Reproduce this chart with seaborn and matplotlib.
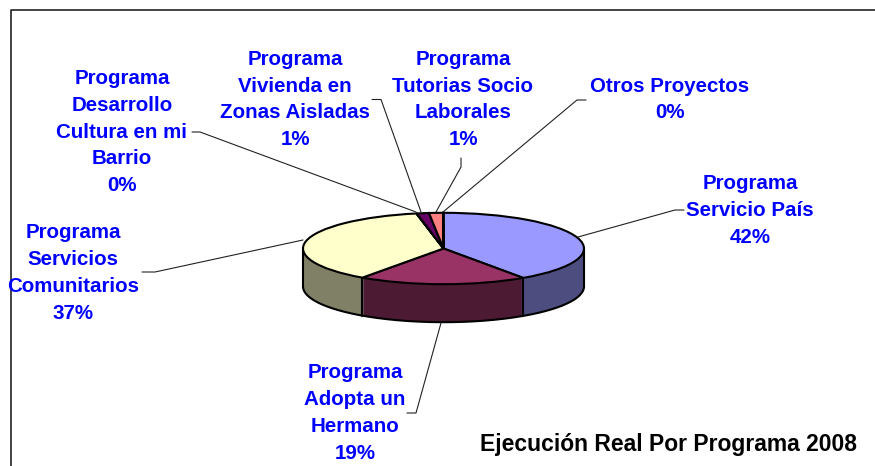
import numpy as np
import seaborn as sns
import matplotlib.pyplot as plt

sns.set_theme(style="white")
plt.rcParams['font.family'] = ['Liberation Sans', 'DejaVu Sans']

programas = ["Programa\nServicio País", "Programa\nAdopta un\nHermano", "Programa\nServicios\nComunitarios",
             "Programa\nDesarrollo\nCultura en mi\nBarrio", "Programa\nVivienda en\nZonas Aisladas",
             "Programa\nTutorias Socio\nLaborales", "Otros Proyectos"]
# sector sizes measured on the drawn pie, printed percentages are rounded in the source
sectores = [40.4, 19.4, 37.1, 0.05, 1.4, 1.6, 0.05]
porcentajes = [42, 19, 37, 0, 1, 1, 0]
colores = ["#9999FF", "#993366", "#FFFFCC", "#CCFFFF", "#660066", "#FF8080", "#0066CC"]
colores_lado = ["#4D4D80", "#4D1A33", "#808066", "#668080", "#330033", "#804040", "#003366"]

# label centre and leader line in pixels
pos_label = [(750, 210.5), (355, 413), (73, 273), (122, 132), (295, 99.5), (463, 99.5), (670, 99.5)]
lideres = [[(578, 237), (675, 210), (684, 210)],
           [(441, 323), (416, 413), (407, 413)],
           [(303, 240), (155, 272), (142, 272)],
           [(416, 212), (200, 132), (192, 132)],
           [(421, 212), (381, 99.5), (372, 99.5)],
           [(436, 212), (461, 167), (461, 158)],
           [(443, 212), (577, 100), (586, 100)]]

cx, cy, rx, ry = 443.5, 248.5, 140.5, 35.7
alto = 38 / ry

fig = plt.figure(figsize=(8.75, 4.66), dpi=100)
ax = fig.add_axes([0, 0, 1, 1])

# extruded side: stacked pies, bottom to top
for d in np.linspace(alto, 0, 39):
    ax.pie(sectores, colors=colores_lado, startangle=90, counterclock=False,
           center=(0, -d), wedgeprops=dict(linewidth=0))
t = np.linspace(np.pi, 2 * np.pi, 200)
ax.plot(np.cos(t), np.sin(t) - alto, color="black", lw=1.5)
ax.plot([-1, -1], [0, -alto], color="black", lw=1.5)
ax.plot([1, 1], [0, -alto], color="black", lw=1.5)
ang = np.pi / 2 - 2 * np.pi * np.cumsum(sectores) / np.sum(sectores)
for a in ang:
    if np.sin(a) < -0.1:
        ax.plot([np.cos(a)] * 2, [np.sin(a), np.sin(a) - alto], color="black", lw=1.5)
# top face
ax.pie(sectores, colors=colores, startangle=90, counterclock=False,
       wedgeprops=dict(linewidth=1.5, edgecolor="black"))
ax.set_aspect("auto")
ax.set_xlim(-cx / rx, (875 - cx) / rx)
ax.set_ylim((cy - 466) / ry, cy / ry)
ax.axis("off")

# overlay in pixel units for text, leaders and frame
ov = fig.add_axes([0, 0, 1, 1], facecolor="none")
ov.set_xlim(0, 875)
ov.set_ylim(466, 0)
ov.axis("off")
ov.plot([10.5, 10.5, 875], [466, 9.5, 9.5], color="#222222", lw=1.2)
for nombre, pct, (x, y), lid in zip(programas, porcentajes, pos_label, lideres):
    ov.plot(*zip(*lid), color="#222222", lw=0.8)
    ov.text(x, y, f"{nombre}\n{pct}%", color="#0000FF", fontweight="bold", fontsize=14.8,
            ha="center", va="center", linespacing=1.53)
ov.text(480, 445, "Ejecución Real Por Programa 2008", color="black", fontweight="bold",
        fontsize=16.5, ha="left", va="center", clip_on=True)

fig.savefig("out.png", dpi=100)
